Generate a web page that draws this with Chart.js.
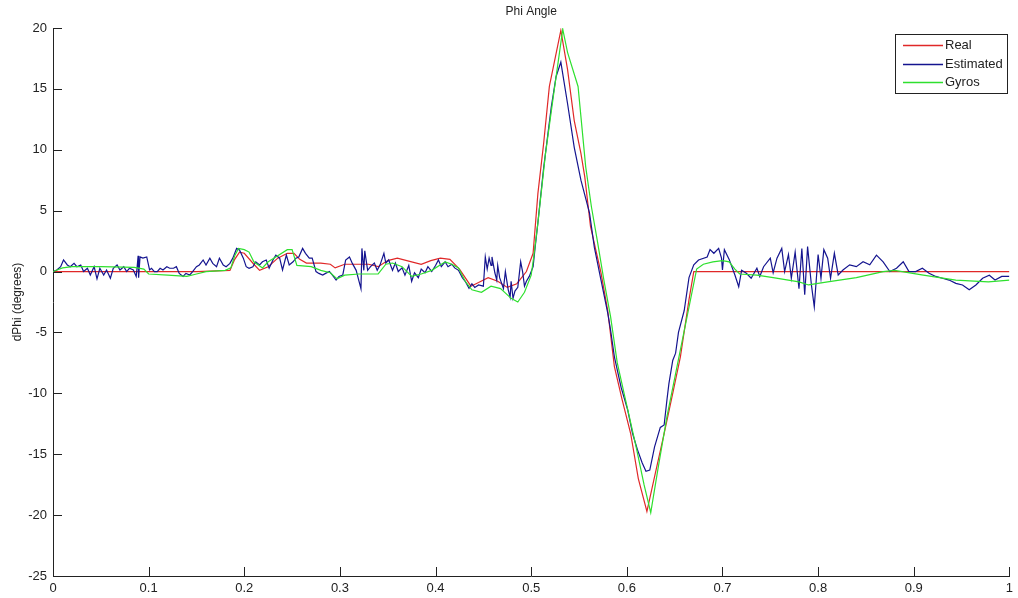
<!DOCTYPE html>
<html>
<head>
<meta charset="utf-8">
<script src="https://cdn.jsdelivr.net/npm/chart.js@4"></script>
<style>
html,body{margin:0;padding:0;background:#fff;}
#wrap{width:1018px;height:598px;}
</style>
</head>
<body>
<div id="wrap"><canvas id="c" width="1018" height="598"></canvas></div>
<script>
const titleText = "Phi Angle";
const yAxisTitle = "dPhi (degrees)";
const seriesNames = ["Real", "Estimated", "Gyros"];
const xTicks = [0, 0.1, 0.2, 0.3, 0.4, 0.5, 0.6, 0.7, 0.8, 0.9, 1];
const yTicks = [-25, -20, -15, -10, -5, 0, 5, 10, 15, 20];

const realX = [0,0.05,0.1,0.15,0.185,0.19,0.195,0.2,0.21,0.216,0.225,0.235,0.245,0.252,0.258,0.265,0.28,0.29,0.295,0.305,0.33,0.34,0.35,0.36,0.375,0.385,0.395,0.405,0.415,0.425,0.437,0.445,0.455,0.465,0.475,0.485,0.495,0.502,0.507,0.513,0.519,0.525,0.531,0.538,0.545,0.552,0.556,0.562,0.573,0.58,0.587,0.595,0.604,0.612,0.621,0.63,0.639,0.648,0.656,0.665,0.67,0.7,0.8,0.9,1.0];
const realY = [0,0,0,0,0.1,1.0,1.6,1.5,0.6,0.1,0.4,1.1,1.5,1.5,1.0,0.7,0.7,0.6,0.3,0.6,0.6,0.4,0.9,1.1,0.8,0.6,0.9,1.1,1.0,0.2,-1.2,-0.9,-0.5,-0.8,-1.3,-1.0,0.0,1.5,6.4,10.5,15.2,17.5,19.8,16.6,12.4,9.7,7.8,3.7,-0.1,-3.2,-7.8,-10.5,-13.3,-17,-19.7,-16.5,-13.3,-10,-7.0,-2.3,0,0,0,0,0];

const gyroX = [0,0.01,0.02,0.05,0.085,0.095,0.1,0.12,0.14,0.15,0.16,0.18,0.186,0.19,0.194,0.2,0.205,0.21,0.219,0.225,0.235,0.245,0.25,0.255,0.27,0.28,0.29,0.297,0.305,0.32,0.34,0.348,0.355,0.365,0.375,0.385,0.396,0.41,0.417,0.424,0.431,0.438,0.448,0.458,0.468,0.479,0.486,0.493,0.5,0.503,0.507,0.515,0.523,0.528,0.533,0.538,0.549,0.557,0.563,0.569,0.576,0.583,0.59,0.6,0.61,0.618,0.625,0.633,0.642,0.652,0.663,0.673,0.68,0.69,0.7,0.707,0.713,0.718,0.736,0.753,0.78,0.79,0.81,0.84,0.868,0.88,0.91,0.944,0.978,1.0];
const gyroY = [0,0.3,0.4,0.4,0.35,0.2,-0.2,-0.3,-0.4,-0.2,0,0.1,0.3,1.3,1.9,1.8,1.6,0.8,0.3,0.8,1.3,1.8,1.8,0.5,0.4,0.1,-0.1,-0.6,-0.3,-0.2,-0.2,0.6,0.7,0.4,-0.4,-0.2,0.1,0.8,0.6,0.3,-0.8,-1.5,-1.7,-1.2,-1.4,-2.2,-2.5,-1.7,-0.3,1.4,4.0,9.7,14.3,17.1,19.9,18.0,15.2,8.6,5.3,2.6,-0.7,-3.7,-7.5,-11,-14.5,-17.5,-19.8,-16,-11.9,-8,-3.7,0.2,0.6,0.8,0.9,0.8,0.2,-0.2,-0.3,-0.5,-0.85,-1.1,-0.85,-0.5,0,0.1,-0.3,-0.7,-0.85,-0.7];

const estX = [0,0.004,0.008,0.011,0.015,0.018,0.022,0.025,0.029,0.032,0.036,0.039,0.043,0.046,0.049,0.053,0.056,0.06,0.063,0.067,0.07,0.074,0.077,0.08,0.084,0.087,0.088,0.089,0.0895,0.091,0.094,0.098,0.101,0.103,0.106,0.109,0.112,0.115,0.119,0.122,0.126,0.129,0.132,0.136,0.139,0.143,0.146,0.15,0.153,0.157,0.16,0.164,0.167,0.171,0.174,0.178,0.181,0.185,0.188,0.192,0.195,0.199,0.202,0.205,0.209,0.212,0.216,0.219,0.223,0.226,0.23,0.233,0.237,0.24,0.244,0.247,0.251,0.254,0.257,0.261,0.264,0.268,0.271,0.275,0.278,0.282,0.285,0.289,0.292,0.296,0.299,0.303,0.306,0.31,0.313,0.317,0.32,0.322,0.323,0.325,0.326,0.329,0.332,0.336,0.339,0.342,0.346,0.348,0.351,0.355,0.358,0.361,0.365,0.368,0.372,0.375,0.378,0.382,0.385,0.389,0.392,0.396,0.4,0.403,0.406,0.41,0.413,0.417,0.42,0.424,0.428,0.431,0.435,0.438,0.441,0.445,0.45,0.452,0.454,0.456,0.458,0.459,0.462,0.464,0.465,0.467,0.471,0.473,0.476,0.478,0.479,0.481,0.483,0.486,0.489,0.491,0.493,0.495,0.498,0.502,0.504,0.507,0.513,0.521,0.526,0.531,0.538,0.545,0.552,0.561,0.566,0.573,0.58,0.583,0.587,0.594,0.601,0.606,0.611,0.616,0.62,0.624,0.629,0.635,0.639,0.642,0.644,0.648,0.651,0.654,0.66,0.665,0.67,0.675,0.684,0.687,0.691,0.696,0.699,0.7,0.702,0.707,0.713,0.717,0.72,0.725,0.73,0.736,0.739,0.743,0.75,0.753,0.757,0.762,0.765,0.769,0.772,0.776,0.78,0.783,0.786,0.789,0.793,0.796,0.8,0.803,0.806,0.81,0.813,0.817,0.821,0.826,0.833,0.84,0.847,0.854,0.861,0.868,0.875,0.882,0.889,0.895,0.902,0.909,0.916,0.923,0.93,0.937,0.944,0.951,0.958,0.965,0.972,0.979,0.985,0.992,1.0];
const estY = [0,0.13,0.4,0.95,0.54,0.4,0.67,0.4,0.54,0,0.27,-0.28,0.4,-0.6,0.27,-0.28,0.13,-0.55,0.27,0.54,0.13,0.4,0,0.27,0.13,-0.4,0.4,1.3,-0.5,1.2,1.1,1.2,0.13,0.27,0,0,0.27,0.13,0.4,0.27,0.27,0.4,-0.15,-0.4,-0.15,-0.28,0,0.4,0.54,0.95,0.54,1.1,0.67,0.4,1.1,0.54,0.4,0.67,1.1,1.9,1.77,1.1,0.4,0.27,0.4,0.8,0.54,0.8,0.95,0.27,0.95,1.35,1.1,0.13,1.35,0.54,0.8,1.1,1.2,1.9,1.5,1.1,1.1,0,-0.15,-0.28,-0.15,0,-0.28,-0.7,-0.4,-0.28,0.95,1.2,0.67,0.1,-0.8,-1.4,1.9,0.1,1.7,0.1,0.4,0.7,0.1,0.55,1.5,0.7,0.95,0.1,0.7,0,0.3,-0.3,0.5,-0.8,-0.1,-0.5,0.2,-0.1,0.4,0,0.5,0.95,0.4,0.8,0.4,0.6,0.3,0.1,-0.5,-0.8,-1.37,-1.0,-1.3,-1.1,-1.2,1.2,0.2,1.1,0.5,1.2,-0.1,-0.7,0.5,-0.5,-1.4,0,-1.5,-2.1,-0.8,-2.2,-1.6,-1.3,0.8,0,-1.2,-0.8,-0.4,0.4,1.9,4.0,8.5,13.5,16.0,17.2,13.8,10.2,7.5,4.8,2.0,-0.7,-3.4,-4.8,-7.0,-9.5,-11.4,-13.3,-14.6,-15.7,-16.4,-16.3,-14.4,-12.8,-12.6,-10.5,-9.2,-7.3,-6.7,-5.0,-3.2,-0.5,0.55,0.95,1.2,1.8,1.5,1.9,1.1,0.13,1.8,1.0,-0.28,-1.25,0.1,-0.14,-0.55,0.27,-0.4,0.4,1.1,-0.1,1.1,1.9,0,1.4,-0.55,1.6,-1.4,1.9,-1.9,2.05,-1.1,-2.9,1.4,-0.55,1.8,1.1,-0.55,1.5,-0.28,0.13,0.55,0.4,0.8,0.55,1.35,0.8,0,0.27,0.8,0,0,0.27,-0.14,-0.4,-0.55,-0.7,-0.97,-1.1,-1.5,-1.1,-0.55,-0.3,-0.7,-0.4,-0.4];

const seriesColors = ["#e02828", "#14148f", "#2ee02e"];

function pts(xs, ys) { return xs.map((x, i) => ({ x: x, y: ys[i] })); }

const FONT = "'Liberation Sans', Arial, sans-serif";

const decorPlugin = {
  id: 'decor',
  afterDraw(chart) {
    const ctx = chart.ctx;
    const xs = chart.scales.x, ys = chart.scales.y;
    const a = chart.chartArea;
    ctx.save();
    // inward tick marks
    ctx.strokeStyle = '#222';
    ctx.lineWidth = 1;
    ctx.beginPath();
    xTicks.forEach(v => {
      const px = Math.round(xs.getPixelForValue(v)) + 0.5;
      ctx.moveTo(px, a.bottom);
      ctx.lineTo(px, a.bottom - 9);
    });
    yTicks.forEach(v => {
      const py = Math.round(ys.getPixelForValue(v)) + 0.5;
      ctx.moveTo(a.left, py);
      ctx.lineTo(a.left + 9, py);
    });
    ctx.stroke();
    // title
    ctx.fillStyle = '#222';
    ctx.font = '12px ' + FONT;
    ctx.textAlign = 'center';
    ctx.textBaseline = 'middle';
    ctx.fillText(titleText, (a.left + a.right) / 2, 12);
    // legend box
    const bx = 895.5, by = 34.5, bw = 112, bh = 59;
    ctx.fillStyle = '#fff';
    ctx.fillRect(bx, by, bw, bh);
    ctx.strokeStyle = '#222';
    ctx.strokeRect(bx, by, bw, bh);
    const rows = [45, 64, 82];
    ctx.font = '13px ' + FONT;
    ctx.textAlign = 'left';
    rows.forEach((ry, i) => {
      ctx.strokeStyle = seriesColors[i];
      ctx.lineWidth = 1.3;
      ctx.beginPath();
      ctx.moveTo(903, ry + 0.5);
      ctx.lineTo(943, ry + 0.5);
      ctx.stroke();
      ctx.fillStyle = '#222';
      ctx.fillText(seriesNames[i], 945, ry + 0.5);
    });
    ctx.restore();
  }
};

new Chart(document.getElementById('c'), {
  type: 'line',
  data: {
    datasets: [
      { label: seriesNames[0], data: pts(realX, realY), borderColor: seriesColors[0], borderWidth: 1.2, pointRadius: 0, tension: 0, order: 3 },
      { label: seriesNames[1], data: pts(estX, estY), borderColor: seriesColors[1], borderWidth: 1.2, pointRadius: 0, tension: 0, order: 2 },
      { label: seriesNames[2], data: pts(gyroX, gyroY), borderColor: seriesColors[2], borderWidth: 1.2, pointRadius: 0, tension: 0, order: 1 }
    ]
  },
  options: {
    responsive: false,
    animation: false,
    devicePixelRatio: 1,
    layout: { padding: { left: 0, top: 28, right: 4, bottom: 0 } },
    plugins: { legend: { display: false }, title: { display: false }, tooltip: { enabled: false } },
    scales: {
      x: {
        type: 'linear', min: 0, max: 1,
        afterFit(s) { s.height = 22; },
        afterBuildTicks(s) { s.ticks = xTicks.map(v => ({ value: v })); },
        grid: { drawOnChartArea: false, drawTicks: false },
        border: { display: true, color: '#222', width: 1 },
        ticks: { padding: 5, color: '#222', font: { family: FONT, size: 13 }, maxRotation: 0, autoSkip: false, callback: v => String(v) }
      },
      y: {
        type: 'linear', min: -25, max: 20,
        afterFit(s) { s.width = 53; },
        afterBuildTicks(s) { s.ticks = yTicks.map(v => ({ value: v })); },
        grid: { drawOnChartArea: false, drawTicks: false },
        border: { display: true, color: '#222', width: 1 },
        ticks: { padding: 6, color: '#222', font: { family: FONT, size: 13 }, autoSkip: false, callback: v => String(v) },
        title: { display: true, text: yAxisTitle, color: '#222', font: { family: FONT, size: 12 }, padding: { top: 10, bottom: 0 } }
      }
    }
  },
  plugins: [decorPlugin]
});
</script>
</body>
</html>
